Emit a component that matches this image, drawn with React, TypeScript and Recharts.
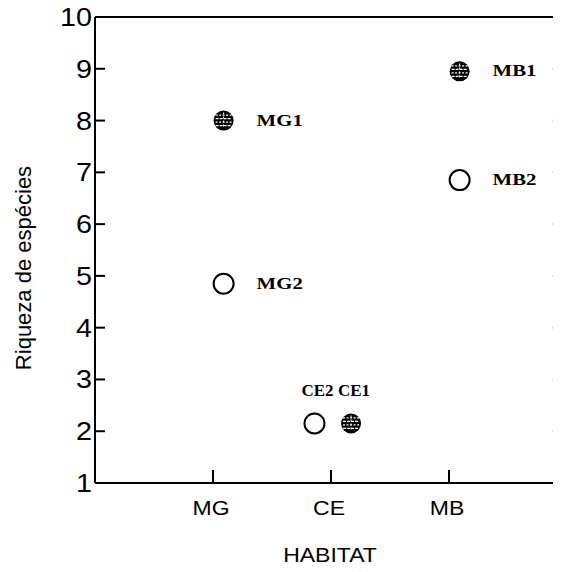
import React from 'react';
import { ScatterChart, Scatter, XAxis, YAxis, ReferenceLine, Label } from 'recharts';

// Habitats on the x axis (tick 1, 2, 3)
const habitats: string[] = ['MG', 'CE', 'MB'];

// Sample 1 (hatched markers)
const sample1Names: string[] = ['MG1', 'CE1', 'MB1'];
const sample1X: number[] = [1.09, 2.17, 3.09];
const sample1Y: number[] = [8.0, 2.15, 8.95];

// Sample 2 (open markers)
const sample2Names: string[] = ['MG2', 'CE2', 'MB2'];
const sample2X: number[] = [1.09, 1.86, 3.09];
const sample2Y: number[] = [4.85, 2.15, 6.85];

const yTicks: number[] = [1, 2, 3, 4, 5, 6, 7, 8, 9, 10];

interface Pt {
  name: string;
  x: number;
  y: number;
}

const sample1: Pt[] = sample1Names.map((n, i) => ({ name: n, x: sample1X[i], y: sample1Y[i] }));
const sample2: Pt[] = sample2Names.map((n, i) => ({ name: n, x: sample2X[i], y: sample2Y[i] }));

const SANS = '"Liberation Sans", Arial, sans-serif';
const SERIF = '"Liberation Serif", "Times New Roman", serif';

// the scanned figure has wide lettering, so text is stretched horizontally
const WideText = ({ x, y, sx, anchor, family, size, weight, children }: any) => (
  <text
    transform={`translate(${x} ${y}) scale(${sx} 1)`}
    x={0}
    y={0}
    textAnchor={anchor}
    fontFamily={family}
    fontSize={size}
    fontWeight={weight || 'normal'}
    fill="#000"
  >
    {children}
  </text>
);

// point label: to the right, except CE which sits above the marker
const PointLabel = ({ cx, cy, name, x }: { cx: number; cy: number; name: string; x: number }) => {
  const above = habitats[Math.round(x) - 1] === 'CE';
  if (above) {
    return (
      <WideText x={cx + 3} y={cy - 27} sx={1.0} anchor="middle" family={SERIF} size={17} weight="bold">
        {name}
      </WideText>
    );
  }
  return (
    <WideText x={cx + 33} y={cy + 5} sx={1.3} anchor="start" family={SERIF} size={16} weight="bold">
      {name}
    </WideText>
  );
};

const HatchedDot = (props: any) => {
  const { cx, cy, payload } = props;
  const rows = [-5.5, -2, 1.5, 5];
  return (
    <g>
      <circle cx={cx} cy={cy} r={10} fill="#000" />
      {rows.map((d, i) => (
        <line
          key={i}
          x1={cx - 8}
          x2={cx + 8}
          y1={cy + d}
          y2={cy + d}
          stroke="#fff"
          strokeWidth={1.2}
          strokeDasharray={i % 2 === 0 ? '2 1.5' : '3 1'}
        />
      ))}
      <line x1={cx} x2={cx} y1={cy - 8} y2={cy + 8} stroke="#fff" strokeWidth={1} strokeDasharray="2 2" />
      <PointLabel cx={cx} cy={cy} name={payload.name} x={payload.x} />
    </g>
  );
};

const OpenDot = (props: any) => {
  const { cx, cy, payload } = props;
  return (
    <g>
      <circle cx={cx} cy={cy} r={10} fill="#fff" stroke="#000" strokeWidth={2} />
      <PointLabel cx={cx} cy={cy} name={payload.name} x={payload.x} />
    </g>
  );
};

// ticks point inward
const YTick = (props: any) => {
  const { x, y, payload } = props;
  return (
    <g>
      <line x1={x} x2={x + 10} y1={y} y2={y} stroke="#000" strokeWidth={2} />
      <WideText x={x - 3} y={y + 9} sx={1.15} anchor="end" family={SANS} size={25}>
        {payload.value}
      </WideText>
    </g>
  );
};

const XTick = (props: any) => {
  const { x, y, payload } = props;
  return (
    <g>
      <line x1={x} x2={x} y1={y} y2={y - 13} stroke="#000" strokeWidth={2} />
      <WideText x={x - 2} y={y + 32} sx={1.15} anchor="middle" family={SANS} size={20}>
        {habitats[payload.value - 1]}
      </WideText>
    </g>
  );
};

const App: React.FC = () => {
  return (
    <div style={{ margin: -8, width: 561, height: 572, overflow: 'hidden', background: '#fff' }}>
      <ScatterChart width={570} height={572} margin={{ top: 17, right: 3, bottom: 0, left: 0 }}>
        <XAxis
          dataKey="x"
          type="number"
          domain={[0, 4]}
          ticks={[1, 2, 3]}
          allowDataOverflow
          height={89}
          tickSize={0}
          tickMargin={0}
          tick={<XTick />}
          axisLine={{ stroke: '#000', strokeWidth: 2 }}
        >
          <Label
            content={(p: any) => (
              <WideText
                x={p.viewBox.x + p.viewBox.width / 2 - 1}
                y={562}
                sx={1.15}
                anchor="middle"
                family={SANS}
                size={20}
              >
                HABITAT
              </WideText>
            )}
          />
        </XAxis>
        <YAxis
          dataKey="y"
          type="number"
          domain={[1, 10]}
          ticks={yTicks}
          allowDataOverflow
          width={95}
          tickSize={0}
          tickMargin={0}
          tick={<YTick />}
          axisLine={{ stroke: '#000', strokeWidth: 2 }}
        >
          <Label
            content={() => (
              <text
                x={31}
                y={268}
                transform="rotate(-90 31 268)"
                textAnchor="middle"
                fontFamily={SANS}
                fontSize={22}
                fill="#000"
              >
                Riqueza de espécies
              </text>
            )}
          />
        </YAxis>
        <ReferenceLine y={10} stroke="#000" strokeWidth={2} />
        {yTicks.slice(1, -1).map((v) => (
          <ReferenceLine
            key={`r-${v}`}
            segment={[{ x: 3.88, y: v }, { x: 4, y: v }]}
            stroke="#000"
            strokeWidth={2}
          />
        ))}
        <Scatter data={sample2} shape={<OpenDot />} isAnimationActive={false} />
        <Scatter data={sample1} shape={<HatchedDot />} isAnimationActive={false} />
      </ScatterChart>
    </div>
  );
};

export default App;
